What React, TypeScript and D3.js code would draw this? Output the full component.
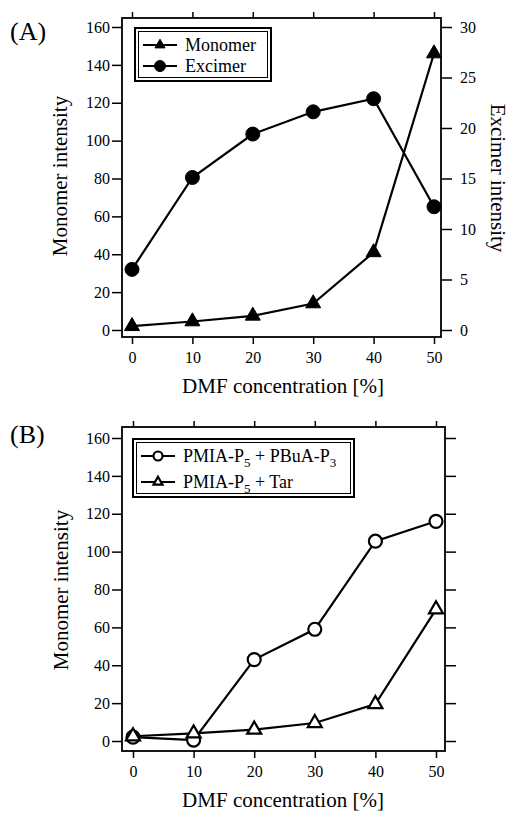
import React, { useEffect, useRef } from 'react'
import * as d3 from 'd3'

// DMF concentration [%]
const dmf = [0, 10, 20, 30, 40, 50]

// panel (A)
const monomerA = [2, 4.5, 7.5, 14, 41, 146] // left axis
const excimerA = [6.0, 15.1, 19.4, 21.6, 22.9, 12.2] // right axis

// panel (B)
const buaB = [2, 0.5, 43, 59, 105.5, 116] // PMIA-P5 + PBuA-P3
const tarB = [2.5, 4, 6, 9.5, 19.5, 69.5] // PMIA-P5 + Tar

const xTicks = [0, 10, 20, 30, 40, 50]
const leftTicks = [0, 20, 40, 60, 80, 100, 120, 140, 160]
const rightTicks = [0, 5, 10, 15, 20, 25, 30]

// legend labels as [text, subscript] pieces
const labelBuA = [['PMIA-P', '5'], [' + PBuA-P', '3']]
const labelTar = [['PMIA-P', '5'], [' + Tar', '']]

const serif = '"Liberation Serif", "Times New Roman", serif'

type Frame = { l: number, r: number, t: number, b: number }

function Axes({ x, y, yR, rTicks, frame, rightLabels }: any) {
  const ref = useRef<SVGGElement>(null)

  useEffect(() => {
    const g = d3.select(ref.current)
    g.selectAll('*').remove()

    const bottom = g.append('g')
      .attr('transform', 'translate(0,' + frame.b + ')')
      .call(d3.axisBottom(x).tickValues(xTicks).tickSize(7).tickPadding(8).tickSizeOuter(0))
    const top = g.append('g')
      .attr('transform', 'translate(0,' + frame.t + ')')
      .call(d3.axisTop(x).tickValues(xTicks).tickSize(6).tickFormat(() => '').tickSizeOuter(0))
    const left = g.append('g')
      .attr('transform', 'translate(' + frame.l + ',0)')
      .call(d3.axisLeft(y).tickValues(leftTicks).tickSize(10).tickPadding(2).tickSizeOuter(0))
    const right = g.append('g')
      .attr('transform', 'translate(' + frame.r + ',0)')
      .call(d3.axisRight(yR).tickValues(rTicks).tickSize(11).tickPadding(8).tickSizeOuter(0))

    ;[bottom, top, left, right].forEach(a => {
      a.select('.domain').remove()
      a.attr('font-family', serif).attr('font-size', 16)
      a.selectAll('line').attr('stroke', '#000').attr('stroke-width', 1.5)
      a.selectAll('text').attr('fill', '#000')
    })
    top.selectAll('text').remove()
    if (!rightLabels) right.selectAll('text').remove()
  })

  return <g ref={ref} />
}

function Marker({ cx, cy, kind, size }: any) {
  if (kind === 'dot' || kind === 'ring') {
    return <circle cx={cx} cy={cy} r={size}
      fill={kind === 'dot' ? '#000' : '#fff'} stroke='#000' strokeWidth={kind === 'dot' ? 1 : 2.2} />
  }
  const area = size * size * Math.sqrt(3) / 4
  const path = d3.symbol().type(d3.symbolTriangle).size(area)() as string
  return <path d={path} transform={'translate(' + cx + ',' + cy + ')'}
    fill={kind === 'tri' ? '#000' : '#fff'} stroke='#000' strokeWidth={kind === 'tri' ? 1 : 2.2}
    strokeLinejoin='miter' />
}

function Series({ x, y, values, kind, size }: any) {
  const line = d3.line<number>()
    .x((d, i) => x(dmf[i]))
    .y(d => y(d))
  return (
    <g>
      <path d={line(values) as string} fill='none' stroke='#000' strokeWidth={2.2} />
      {values.map((v: number, i: number) =>
        <Marker key={i} cx={x(dmf[i])} cy={y(v)} kind={kind} size={size} />)}
    </g>
  )
}

function Label({ parts }: any) {
  if (typeof parts === 'string') return <>{parts}</>
  const out: any[] = []
  let shifted = false
  parts.forEach((p: string[], i: number) => {
    out.push(<tspan key={'t' + i} dy={shifted ? -5 : 0}>{p[0]}</tspan>)
    shifted = false
    if (p[1]) {
      out.push(<tspan key={'s' + i} dy={5} fontSize={13}>{p[1]}</tspan>)
      shifted = true
    }
  })
  return <>{out}</>
}

function Legend({ x0, y0, w, h, items }: any) {
  return (
    <g fontFamily={serif} fontSize={18}>
      <rect x={x0} y={y0} width={w} height={h} fill='#fff' stroke='#000' strokeWidth={2} />
      <rect x={x0 + 3.5} y={y0 + 3.5} width={w - 7} height={h - 7} fill='none' stroke='#000' strokeWidth={1} />
      {items.map((it: any, i: number) => {
        const cy = y0 + 17 + i * (h - 32)
        return (
          <g key={i}>
            <line x1={x0 + 8} x2={x0 + 42} y1={cy} y2={cy} stroke='#000' strokeWidth={2.2} />
            <Marker cx={x0 + 25} cy={cy} kind={it.kind} size={it.size} />
            <text x={x0 + 50} y={cy + 6}><Label parts={it.label} /></text>
          </g>
        )
      })}
    </g>
  )
}

export default function App() {
  // panel A
  const xA = d3.scaleLinear().domain([0, 50]).range([132, 434])
  const yA = d3.scaleLinear().domain([0, 160]).range([330, 27])
  const yAR = d3.scaleLinear().domain([0, 30]).range([330, 27])
  const fA: Frame = { l: 122, r: 441, t: 18, b: 337 }

  // panel B
  const xB = d3.scaleLinear().domain([0, 50]).range([133, 436])
  const yB = d3.scaleLinear().domain([0, 160]).range([741, 438])
  const fB: Frame = { l: 122, r: 445, t: 427, b: 751 }

  const frame = (f: Frame) =>
    <rect x={f.l} y={f.t} width={f.r - f.l} height={f.b - f.t} fill='none' stroke='#000' strokeWidth={1.8} />

  return (
    <svg width={510} height={814} style={{ position: 'absolute', left: 0, top: 0, background: '#fff' }}>
      {/* (A) */}
      <text x={10} y={40} fontFamily={serif} fontSize={26}>(A)</text>
      {frame(fA)}
      <Axes x={xA} y={yA} yR={yAR} rTicks={rightTicks} frame={fA} rightLabels={true} />
      <Series x={xA} y={yA} values={monomerA} kind='tri' size={15} />
      <Series x={xA} y={yAR} values={excimerA} kind='dot' size={7} />
      <Legend x0={135} y0={28} w={136} h={53}
        items={[{ label: 'Monomer', kind: 'tri', size: 10 }, { label: 'Excimer', kind: 'dot', size: 5.5 }]} />
      <text x={283} y={393} textAnchor='middle' fontFamily={serif} fontSize={21}>DMF concentration [%]</text>
      <text transform={'translate(67,176) rotate(-90)'} textAnchor='middle' fontFamily={serif} fontSize={21}>Monomer intensity</text>
      <text transform={'translate(491,178) rotate(90)'} textAnchor='middle' fontFamily={serif} fontSize={21}>Excimer intensity</text>

      {/* (B) */}
      <text x={10} y={443} fontFamily={serif} fontSize={26}>(B)</text>
      {frame(fB)}
      <Axes x={xB} y={yB} yR={yB} rTicks={leftTicks} frame={fB} rightLabels={false} />
      <Series x={xB} y={yB} values={buaB} kind='ring' size={6.5} />
      <Series x={xB} y={yB} values={tarB} kind='otri' size={14} />
      <Legend x0={133} y0={439} w={221} h={58}
        items={[{ label: labelBuA, kind: 'ring', size: 4.5 }, { label: labelTar, kind: 'otri', size: 9 }]} />
      <text x={283} y={807} textAnchor='middle' fontFamily={serif} fontSize={21}>DMF concentration [%]</text>
      <text transform={'translate(68,590) rotate(-90)'} textAnchor='middle' fontFamily={serif} fontSize={21}>Monomer intensity</text>
    </svg>
  )
}
